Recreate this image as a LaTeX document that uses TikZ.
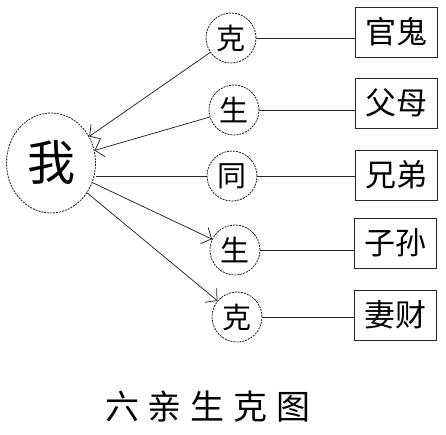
\documentclass[tikz,border=0pt]{standalone}
\usepackage{fontspec}
\newfontfamily\cjk{Noto Sans CJK SC}
\usetikzlibrary{arrows.meta,shapes.geometric}
\begin{document}
\begin{tikzpicture}[x=1pt,y=-1pt,
  ln/.style={draw=black!85,line width=0.75pt},
  dsh/.style={draw=black!85,line width=0.85pt,dash pattern=on 2pt off 1pt},
  rel/.style={dsh,circle,minimum size=50pt,inner sep=0pt,font=\cjk\fontsize{29}{29}\selectfont},
  kin/.style={ln,line width=0.9pt,rectangle,minimum width=82pt,minimum height=50pt,inner sep=0pt,font=\cjk\fontsize{31}{31}\selectfont},
  arr/.style={ln,-{Straight Barb[length=8pt,width=18pt,line width=0.75pt]}}]
\useasboundingbox (0,0) rectangle (446,434);
\node[dsh,ellipse,minimum width=89pt,minimum height=100pt,inner sep=0pt,font=\cjk\fontsize{48}{48}\selectfont] (wo) at (51,163) {我};
\node[rel] (k1) at (231,38) {克};
\node[rel] (s1) at (234,110) {生};
\node[rel] (t)  at (232,176) {同};
\node[rel] (s2) at (235,250) {生};
\node[rel] (k2) at (237,317) {克};
\node[kin] (b1) at (396,32) {官鬼};
\node[kin] (b2) at (396,103) {父母};
\node[kin] (b3) at (396,175) {兄弟};
\node[kin] (b4) at (395,243) {子孙};
\node[kin] (b5) at (395,315) {妻财};
\draw[ln] (k1.east) -- (k1.east -| b1.west);
\draw[ln] (s1.east) -- (s1.east -| b2.west);
\draw[ln] (t.east) -- (t.east -| b3.west);
\draw[ln] (s2.east) -- (s2.east -| b4.west);
\draw[ln] (k2.east) -- (k2.east -| b5.west);
\draw[arr] (k1) -- (wo);
\draw[arr] (s1) -- (wo);
\draw[ln] (t.west -| wo.east) -- (t.west);
\draw[arr] (wo) -- (s2);
\draw[arr] (wo) -- (k2);
\node[font=\cjk\fontsize{34}{34}\selectfont,inner sep=0pt] (title) at (208,407) {六\hspace{9pt}亲\hspace{9pt}生\hspace{9pt}克\hspace{9pt}图};
\end{tikzpicture}
\end{document}
